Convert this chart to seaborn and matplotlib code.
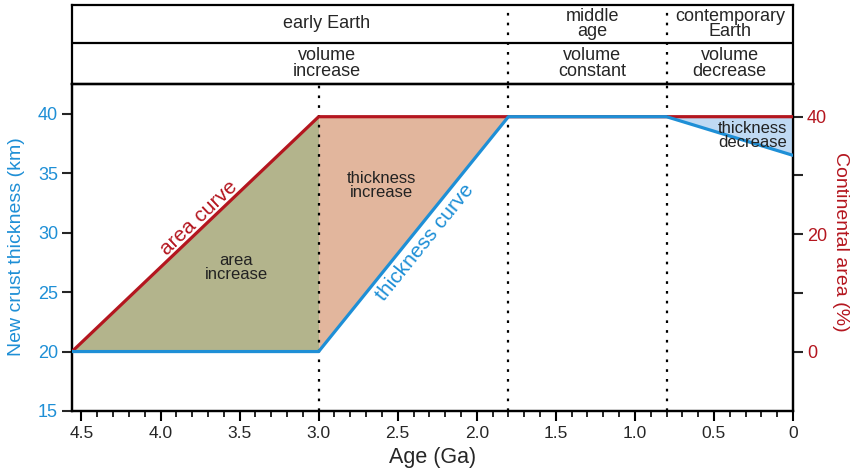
import numpy as np
import matplotlib
matplotlib.use("Agg")
import matplotlib.pyplot as plt
import seaborn as sns
from matplotlib.ticker import MultipleLocator

# ---- data ----
age_thick = [4.56, 3.0, 1.8, 0.8, 0.0]
thickness = [20.0, 20.0, 39.75, 39.75, 36.5]
age_area = [4.56, 3.0, 0.0]
area = [0.0, 40.0, 40.0]
boundaries_plot = [3.0, 1.8, 0.8]
boundaries_head = [1.8, 0.8]
stage_labels = ["early Earth", "middle\nage", "contemporary\nEarth"]
stage_pos = [2.95, 1.27, 0.40]
volume_labels = ["volume\nincrease", "volume\nconstant", "volume\ndecrease"]
left_ticks = [15, 20, 25, 30, 35, 40]
right_ticks = [0, 10, 20, 30, 40]
right_ticklabels = ["0", "", "20", "", "40"]
x_ticks = [4.5, 4.0, 3.5, 3.0, 2.5, 2.0, 1.5, 1.0, 0.5, 0.0]
x_ticklabels = ["4.5", "4.0", "3.5", "3.0", "2.5", "2.0", "1.5", "1.0", "0.5", "0"]

# ---- style ----
sns.set_style("ticks")
plt.rcParams["font.family"] = ["Liberation Sans", "DejaVu Sans"]

BLUE = "#1e8fd6"
RED = "#b4161f"
OLIVE = "#b3b48c"
SALMON = "#e2b69d"
LIGHTBLUE = "#bfd9f3"

W, H = 853, 474
fig = plt.figure(figsize=(W / 100, H / 100), dpi=100)
x0, x1 = 72, 793
yb, yt = 411, 84
ax = fig.add_axes([x0 / W, 1 - yb / H, (x1 - x0) / W, (yb - yt) / H])
hy0, hy1 = 84, 5
axh = fig.add_axes([x0 / W, 1 - hy0 / H, (x1 - x0) / W, (hy0 - hy1) / H])

XL = (4.56, 0.0)
YL = (15.0, 42.5)
ax.set_xlim(*XL)
ax.set_ylim(*YL)

# area (%) -> km mapping: 0% at 20 km, 40% at plateau
km0, km40 = 20.0, 39.75
def area_to_km(a):
    return km0 + np.asarray(a) * (km40 - km0) / 40.0

# red curve evaluated at thickness ages (in km) for fills
red_km = area_to_km(np.interp(age_thick[::-1], age_area[::-1], area[::-1]))[::-1]
th = np.array(thickness)
ag = np.array(age_thick)

ax.fill_between(ag[0:2], th[0:2], red_km[0:2], color=OLIVE, lw=0, zorder=1)
ax.fill_between(ag[1:3], th[1:3], red_km[1:3], color=SALMON, lw=0, zorder=1)
ax.fill_between(ag[3:5], th[3:5], red_km[3:5], color=LIGHTBLUE, lw=0, zorder=1)

for b in boundaries_plot:
    ax.axvline(b, color="black", lw=1.6, linestyle=(0, (1.2, 3.2)), zorder=2)

# twin axis for continental area (scale only)
ax2 = ax.twinx()
ax2.set_ylim(*((np.array(YL) - km0) * 40.0 / (km40 - km0)))
ax2.set_xlim(*XL)

sns.lineplot(x=age_area, y=area_to_km(area), ax=ax, color=RED, linewidth=2.3, sort=False, zorder=4)
sns.lineplot(x=age_thick, y=thickness, ax=ax, color=BLUE, linewidth=2.3, sort=False, zorder=5)
ax.set_zorder(ax2.get_zorder() + 1)
ax.patch.set_visible(False)

# ticks
ax.set_xticks(x_ticks)
ax.set_xticklabels(x_ticklabels)
ax.xaxis.set_minor_locator(MultipleLocator(0.1))
ax.set_yticks(left_ticks)
ax2.set_yticks(right_ticks)
ax2.set_yticklabels(right_ticklabels)
ax.tick_params(axis="x", which="major", length=7, width=1.5, labelsize=12.5, pad=4, color="black")
ax.tick_params(axis="x", which="minor", length=4, width=1.2, color="black")
ax.tick_params(axis="y", which="major", length=7, width=1.5, labelsize=13, labelcolor=BLUE, pad=3)
ax2.tick_params(axis="y", which="major", length=7, width=1.5, labelsize=13, labelcolor=RED, pad=3)

for a in (ax, ax2):
    for s in a.spines.values():
        s.set_linewidth(1.6)
        s.set_color("black")
        s.set_visible(True)

ax.set_xlabel("Age (Ga)", fontsize=15.5, labelpad=4)
ax.set_ylabel("")
ax2.set_ylabel("")
ax.set_xlabel("Age (Ga)", fontsize=15.5, labelpad=4)
fig.text(17 / W, 1 - 247 / H, "New crust thickness (km)", rotation=90, ha="center", va="center",
         fontsize=14, color=BLUE)
fig.text(841 / W, 1 - 242 / H, "Continental area (%)", rotation=270, ha="center", va="center",
         fontsize=14, color=RED)

# header
axh.set_xlim(*XL)
axh.set_ylim(0, 2)
axh.set_xticks([])
axh.set_yticks([])
for s in axh.spines.values():
    s.set_linewidth(1.6)
    s.set_color("black")
    s.set_visible(True)
axh.axhline(1.03, color="black", lw=1.6)
for b in boundaries_head:
    axh.axvline(b, color="black", lw=1.6, linestyle=(0, (1.2, 3.2)))
for lab, x in zip(stage_labels, stage_pos):
    axh.text(x, 1.52, lab, ha="center", va="center", fontsize=13, linespacing=0.88)
for lab, x in zip(volume_labels, stage_pos):
    axh.text(x, 0.52, lab, ha="center", va="center", fontsize=13, linespacing=0.88)

# annotations inside plot
ax.text(3.52, 27.1, "area\nincrease", ha="center", va="center", fontsize=12, linespacing=0.92, color="#222222", zorder=6)
ax.text(2.60, 34.0, "thickness\nincrease", ha="center", va="center", fontsize=12, linespacing=0.92, color="#222222", zorder=6)
ax.text(0.04, 38.2, "thickness\ndecrease", ha="right", va="center", fontsize=12, linespacing=0.92, color="#222222", zorder=6)

def angle_of(p, q):
    d = ax.transData.transform([p, q])
    return np.degrees(np.arctan2(d[1][1] - d[0][1], d[1][0] - d[0][0]))

ang_red = angle_of((age_area[0], area_to_km(area[0])), (age_area[1], area_to_km(area[1])))
ang_blue = angle_of((age_thick[1], thickness[1]), (age_thick[2], thickness[2]))
ax.text(3.76, 31.2, "area curve", rotation=ang_red, rotation_mode="anchor", ha="center", va="center",
        fontsize=15, color=RED, zorder=6)
ax.text(2.33, 29.2, "thickness curve", rotation=ang_blue, rotation_mode="anchor", ha="center", va="center",
        fontsize=15, color=BLUE, zorder=6)

fig.savefig("out.png", dpi=100)
